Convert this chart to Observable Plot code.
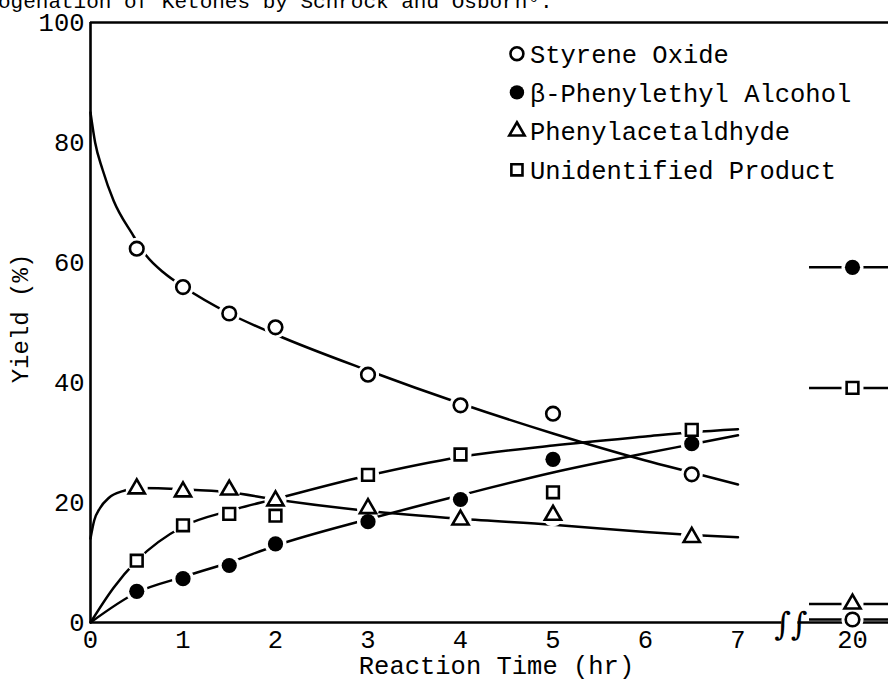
<!DOCTYPE html>
<html><head><meta charset="utf-8">
<script src="https://cdn.jsdelivr.net/npm/d3@7"></script>
<script src="https://cdn.jsdelivr.net/npm/@observablehq/plot@0.6"></script>
<style>
html,body{margin:0;padding:0;background:#fff;}
body{width:888px;height:682px;overflow:hidden;font-family:"Liberation Mono",monospace;color:#000;position:relative;}
#title{position:absolute;left:0;top:0;width:888px;height:12px;overflow:hidden;z-index:2;}
#title span{position:absolute;left:-2px;top:-8px;font-size:21px;line-height:21px;white-space:nowrap;}
#chart svg{display:block;}
</style></head><body>
<div id="title"><span>ogenation of Ketones by Schrock and Osborn⁶.</span></div>
<div id="chart"></div>
<script>
// ---- data ----
const times = [0.5, 1, 1.5, 2, 3, 4, 5, 6.5];
const styreneOxide = [62.3, 55.9, 51.5, 49.2, 41.3, 36.2, 34.8, 24.7];
const phenylethylAlcohol = [5.2, 7.3, 9.5, 13.1, 16.8, 20.5, 27.2, 29.8];
const phenylacetaldehyde = [22.3, 21.8, 22.1, 20.3, 19.0, 17.1, 17.9, 14.2];
const unidentifiedProduct = [10.3, 16.2, 18.1, 17.8, 24.6, 28.0, 21.7, 32.1];
const longTime = 20;
const longTimeYields = [0.5, 59.2, 3.1, 39.1];
const seriesNames = ["Styrene Oxide", "β-Phenylethyl Alcohol", "Phenylacetaldhyde", "Unidentified Product"];
const xTicks = [0, 1, 2, 3, 4, 5, 6, 7, 20];
const yTicks = [0, 20, 40, 60, 80, 100];
// hand-drawn fit curves
const styreneFitT = [0, 0.05, 0.13, 0.25, 0.45, 0.6, 0.8, 1, 1.5, 2, 3, 4, 5, 6, 6.5, 7];
const styreneFitY = [85, 80, 75.5, 70.3, 64.8, 61.2, 58.2, 56, 51.5, 48, 42, 36.5, 31.5, 27, 25, 23];
const alcoholFitT = [0, 0.5, 1, 1.5, 2, 3, 4, 5, 6, 6.5, 7];
const alcoholFitY = [0, 5, 7.6, 10, 12.8, 17.2, 21.2, 25, 28.2, 29.7, 31.2];
const aldehydeFitT = [0, 0.04, 0.1, 0.2, 0.35, 0.5, 1, 1.5, 2, 3, 4, 5, 6, 6.5, 7];
const aldehydeFitY = [14, 17, 19, 20.8, 21.9, 22.4, 22.2, 21.7, 20.5, 18.6, 17.3, 16.3, 15.1, 14.6, 14.2];
const unknownFitT = [0, 0.25, 0.5, 1, 1.5, 2, 3, 4, 5, 6, 6.5, 7];
const unknownFitY = [0, 5.8, 10.3, 16, 18.6, 20.6, 24.5, 27.6, 29.5, 31, 31.7, 32.2];

// ---- build tables ----
const seriesValues = [styreneOxide, phenylethylAlcohol, phenylacetaldehyde, unidentifiedProduct];
const points = seriesNames.flatMap((s, i) =>
  times.map((t, j) => ({series: s, t, y: seriesValues[i][j]})));
const longPoints = seriesNames.map((s, i) => ({series: s, t: longTime, y: longTimeYields[i]}));
const fits = [[styreneFitT, styreneFitY], [alcoholFitT, alcoholFitY], [aldehydeFitT, aldehydeFitY], [unknownFitT, unknownFitY]];
const fitRows = seriesNames.flatMap((s, i) => fits[i][0].map((t, j) => ({series: s, t, y: fits[i][1][j]})));
const legendRows = seriesNames.map((s, i) => ({series: s, t: 4.61, y: 94.8 - i * 6.45}));

const markerStyle = {
  "Styrene Oxide": {symbol: "circle", fill: "white", stroke: "black", r: 6.8},
  "β-Phenylethyl Alcohol": {symbol: "circle", fill: "black", stroke: "none", r: 7.6},
  "Phenylacetaldhyde": {symbol: "triangle", fill: "white", stroke: "black", r: 6.0},
  "Unidentified Product": {symbol: "square", fill: "white", stroke: "black", r: 6.6}
};
const markerMarks = (rows, scale = 1) => seriesNames.map(s => {
  const st = markerStyle[s];
  return Plot.dot(rows.filter(d => d.series === s), {
    x: "t", y: "y", symbol: st.symbol, r: st.r * scale,
    fill: st.fill, stroke: st.stroke, strokeWidth: 2.6
  });
});

const allPoints = points.concat(longPoints);
const W = 888, H = 682;

const chart = Plot.plot({
  width: W, height: H,
  marginLeft: 90, marginRight: 0, marginTop: 22, marginBottom: 60,
  style: {fontFamily: "'Liberation Mono', monospace", fontSize: "25.5px", background: "white", color: "black"},
  x: {type: "linear", domain: [0, 7, 20, 20.39], range: [90, 737.5, 852, 888]},
  y: {domain: [0, 100]},
  marks: [
    Plot.axisX({ticks: xTicks, tickSize: 0, tickPadding: 7, tickFormat: d => String(d), label: null}),
    Plot.axisY({ticks: yTicks, tickSize: 0, tickPadding: 6, tickFormat: d => String(d), label: null}),
    Plot.ruleY([100], {strokeWidth: 2.6}),
    Plot.ruleX([0], {strokeWidth: 2.6}),
    Plot.ruleY([0], {x1: 0, x2: 12.0, strokeWidth: 2.6}),
    Plot.ruleY([0], {x1: 13.8, x2: 20.39, strokeWidth: 2.6}),
    Plot.text(["∫∫"], {x: 13.0, y: 0, dy: 2, fontSize: 32, fontFamily: "DejaVu Serif", fill: "black"}),
    Plot.line(fitRows, {x: "t", y: "y", z: "series", curve: "monotone-x", stroke: "black", strokeWidth: 2.5}),
    Plot.ruleY(longPoints, {y: "y", x1: 15.12, x2: 20.39, stroke: "black", strokeWidth: 2.5}),
    Plot.dot(allPoints, {x: "t", y: "y", r: 11, fill: "white", stroke: "none"}),
    ...markerMarks(points),
    ...markerMarks(longPoints),
    ...markerMarks(legendRows, 0.95),
    Plot.text(legendRows, {x: "t", y: "y", text: "series", textAnchor: "start", dx: 13, dy: 1, fontSize: 25.5}),
    Plot.text(["Reaction Time (hr)"], {frameAnchor: "bottom", textAnchor: "middle", lineAnchor: "middle", dx: 7, dy: 43, fontSize: 25.5}),
    Plot.text(["Yield (%)"], {frameAnchor: "left", textAnchor: "middle", lineAnchor: "middle", rotate: -90, dx: -70, dy: -4, fontSize: 24})
  ]
});
document.getElementById("chart").appendChild(chart);
</script>
</body></html>
